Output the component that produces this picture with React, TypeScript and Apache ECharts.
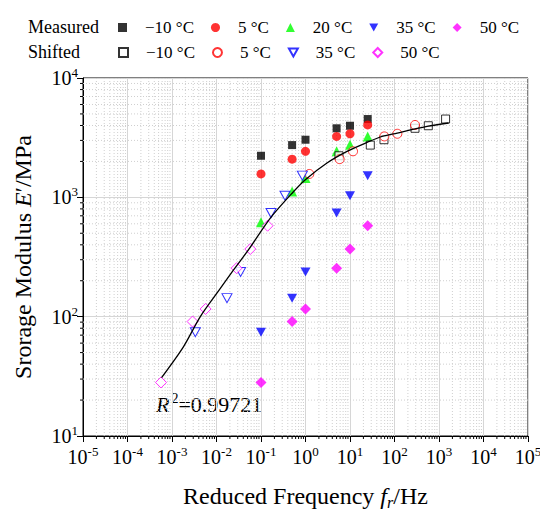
import React, { useEffect, useRef } from 'react';
import * as echarts from 'echarts';

const FONT = '"Liberation Serif", "Times New Roman", serif';

// Measured data (frequency in Hz)
const measuredFreq = [0.1, 0.5, 1, 5, 10, 25];
const measuredM10 = [2230, 2740, 3040, 3790, 3980, 4530];
const measured5 = [1570, 2090, 2430, 3240, 3410, 4040];
const measured20 = [617, 1120, 1450, 2430, 2760, 3240];
const measured35 = [74, 143, 237, 738, 1030, 1520];
const measured50 = [28.1, 91, 116, 255, 369, 578];

// Shifted (reduced) frequencies
const shiftedFreqM10 = [5.66, 28.6, 58, 289, 575, 1406];
const shiftedFreq5 = [1.22, 5.85, 11.7, 59, 116, 289];
const shiftedFreq35 = [0.00334, 0.0172, 0.0348, 0.168, 0.346, 0.85];
const shiftedFreq50 = [0.000566, 0.0029, 0.00569, 0.0283, 0.0575, 0.1406];

// Master curve
const curveFreq = [0.000583, 0.00182, 0.00433, 0.0103, 0.0242, 0.0526, 0.162, 0.541, 0.991, 3.04, 8.57, 24.1, 48, 95.5, 537, 1644];
const curveModulus = [30.9, 56.2, 100, 158, 247, 364, 670, 1119, 1406, 1939, 2427, 2884, 3203, 3400, 3926, 4198];

const xMin = 1e-5;
const xMax = 1e5;
const yMin = 10;
const yMax = 1e4;
const xDecades = [-5, -4, -3, -2, -1, 0, 1, 2, 3, 4];
const yDecades = [1, 2, 3];
const minorMultipliers = [2, 3, 4, 5, 6, 7, 8, 9];

const DOWN_TRIANGLE = 'path://M0,0L10,0L5,9Z';

const zip = (xs: number[], ys: number[]) => xs.map((x, i) => [x, ys[i]]);

const xMinor: number[] = [];
xDecades.forEach((e) => minorMultipliers.forEach((m) => xMinor.push(m * Math.pow(10, e))));
const yMinor: number[] = [];
yDecades.forEach((e) => minorMultipliers.forEach((m) => yMinor.push(m * Math.pow(10, e))));

const supLabel = (v: number) => {
  const e = Math.round(Math.log10(v));
  return '{b|10}{s|' + e + '}';
};

const labelRich = {
  b: { fontFamily: FONT, fontSize: 20, color: '#000', lineHeight: 24, verticalAlign: 'middle' },
  s: { fontFamily: FONT, fontSize: 13, color: '#000', lineHeight: 13, verticalAlign: 'top' },
};

export default function App() {
  const ref = useRef<HTMLDivElement>(null);

  useEffect(() => {
    document.body.style.margin = '0';
    if (!ref.current) return;
    const chart = echarts.init(ref.current, null, { renderer: 'svg' });

    const scatter = (name: string, xs: number[], ys: number[], symbol: string, size: any, color: string, hollow = false) => ({
      type: 'scatter',
      name,
      data: zip(xs, ys),
      symbol,
      symbolSize: size,
      itemStyle: hollow
        ? { color: '#ffffff', borderColor: color, borderWidth: 1 }
        : { color, borderWidth: 0 },
      z: 3,
    });

    const measuredNames = ['Measured −10 °C', 'Measured 5 °C', 'Measured 20 °C', 'Measured 35 °C', 'Measured 50 °C'];
    const shiftedNames = ['Shifted −10 °C', 'Shifted 5 °C', 'Shifted 35 °C', 'Shifted 50 °C'];

    const legendBase = {
      orient: 'horizontal',
      left: 118,
      itemWidth: 9,
      itemHeight: 9,
      itemGap: 17,
      padding: 0,
      selectedMode: false,
      symbolKeepAspect: true,
      textStyle: { fontFamily: FONT, fontSize: 17, color: '#000', padding: [0, 0, 0, 13] },
      formatter: (n: string) => n.replace(/^(Measured|Shifted) /, ''),
    };

    const option: any = {
      animation: false,
      backgroundColor: '#fff',
      grid: {
        left: 83,
        right: 12,
        top: 78,
        bottom: 78,
        show: true,
        borderColor: '#000',
        borderWidth: 1,
        containLabel: false,
        outerBoundsMode: 'none',
      },
      legend: [
        { ...legendBase, top: 19, data: measuredNames },
        { ...legendBase, top: 44, data: shiftedNames },
      ],
      xAxis: {
        type: 'log',
        logBase: 10,
        min: xMin,
        max: xMax,
        interval: 1,
        splitNumber: 10,
        axisLine: { lineStyle: { color: '#000', width: 1 } },
        axisTick: { show: true, length: 6, inside: false, lineStyle: { color: '#000' } },
        splitLine: { show: true, lineStyle: { color: '#d6d6d6', width: 1 } },
        axisLabel: { formatter: supLabel, rich: labelRich, margin: 9 },
        name: 'Reduced Frequency {i|f}{r|r}/Hz',
        nameLocation: 'middle',
        nameGap: 46,
        nameTextStyle: {
          fontFamily: FONT,
          fontSize: 24,
          color: '#000',
          rich: {
            i: { fontFamily: FONT, fontSize: 24, fontStyle: 'italic', color: '#000', lineHeight: 28, verticalAlign: 'middle' },
            r: { fontFamily: FONT, fontSize: 16, fontStyle: 'italic', color: '#000', lineHeight: 16, verticalAlign: 'bottom' },
          },
        },
      },
      yAxis: {
        type: 'log',
        logBase: 10,
        min: yMin,
        max: yMax,
        interval: 1,
        splitNumber: 3,
        axisLine: { lineStyle: { color: '#000', width: 1 } },
        axisTick: { show: true, length: 6, inside: false, lineStyle: { color: '#000' } },
        splitLine: { show: true, lineStyle: { color: '#d6d6d6', width: 1 } },
        axisLabel: { formatter: supLabel, rich: labelRich, margin: 5 },
        name: 'Srorage Modulus {i|E}′/MPa',
        nameLocation: 'middle',
        nameGap: 48,
        nameTextStyle: {
          fontFamily: FONT,
          fontSize: 24,
          color: '#000',
          rich: {
            i: { fontFamily: FONT, fontSize: 24, fontStyle: 'italic', color: '#000' },
          },
        },
      },
      graphic: [
        { type: 'text', left: 28, top: 18, style: { text: 'Measured', font: '18px ' + FONT, fill: '#000' } },
        { type: 'text', left: 28, top: 43, style: { text: 'Shifted', font: '18px ' + FONT, fill: '#000' } },
        {
          type: 'text',
          left: 156,
          top: 391,
          style: {
            text: '{i|R}{s|2}{n|=0.99721}',
            rich: {
              i: { fontFamily: FONT, fontSize: 22, fontStyle: 'italic', fill: '#000', lineHeight: 26, verticalAlign: 'middle', padding: [0, 2, 0, 0] },
              s: { fontFamily: FONT, fontSize: 14, fill: '#000', lineHeight: 14, verticalAlign: 'top' },
              n: { fontFamily: FONT, fontSize: 22, fill: '#000', lineHeight: 26, verticalAlign: 'middle' },
            },
          },
        },
      ],
      series: [
        {
          type: 'custom',
          coordinateSystem: 'cartesian2d',
          silent: true,
          clip: false,
          z: 1,
          data: xMinor.map((v) => [v, yMin]),
          renderItem: (params: any, api: any) => {
            const v = api.value(0);
            const b = api.coord([v, yMin]);
            const t = api.coord([v, yMax]);
            return {
              type: 'group',
              children: [
                { type: 'line', shape: { x1: b[0], y1: t[1], x2: b[0], y2: b[1] }, style: { stroke: '#cfcfcf', lineWidth: 1, lineDash: [1, 2] } },
                { type: 'line', shape: { x1: b[0], y1: b[1], x2: b[0], y2: b[1] + 3 }, style: { stroke: '#000', lineWidth: 1 } },
              ],
            };
          },
        },
        {
          type: 'custom',
          coordinateSystem: 'cartesian2d',
          silent: true,
          clip: false,
          z: 1,
          data: yMinor.map((v) => [xMin, v]),
          renderItem: (params: any, api: any) => {
            const v = api.value(1);
            const l = api.coord([xMin, v]);
            const r = api.coord([xMax, v]);
            return {
              type: 'group',
              children: [
                { type: 'line', shape: { x1: l[0], y1: l[1], x2: r[0], y2: l[1] }, style: { stroke: '#cfcfcf', lineWidth: 1, lineDash: [1, 2] } },
                { type: 'line', shape: { x1: l[0] - 3, y1: l[1], x2: l[0], y2: l[1] }, style: { stroke: '#000', lineWidth: 1 } },
              ],
            };
          },
        },
        scatter('Measured −10 °C', measuredFreq, measuredM10, 'rect', 8, '#000000'),
        scatter('Measured 5 °C', measuredFreq, measured5, 'circle', 9, '#ff0000'),
        scatter('Measured 20 °C', measuredFreq, measured20, 'triangle', 10, '#00ff00'),
        scatter('Measured 35 °C', measuredFreq, measured35, DOWN_TRIANGLE, [10, 9], '#0000ff'),
        scatter('Measured 50 °C', measuredFreq, measured50, 'diamond', 11, '#ff00ff'),
        scatter('Shifted −10 °C', shiftedFreqM10, measuredM10, 'rect', 8, '#000000', true),
        scatter('Shifted 5 °C', shiftedFreq5, measured5, 'circle', 9, '#ff0000', true),
        scatter('Shifted 35 °C', shiftedFreq35, measured35, DOWN_TRIANGLE, [10, 9], '#0000ff', true),
        scatter('Shifted 50 °C', shiftedFreq50, measured50, 'diamond', 11, '#ff00ff', true),
        {
          type: 'line',
          name: 'fit',
          data: zip(curveFreq, curveModulus),
          showSymbol: false,
          smooth: 0.3,
          lineStyle: { color: '#000', width: 1.3 },
          z: 5,
          silent: true,
        },
      ],
    };

    chart.setOption(option);
    return () => chart.dispose();
  }, []);

  return <div ref={ref} style={{ width: 540, height: 514 }} />;
}
